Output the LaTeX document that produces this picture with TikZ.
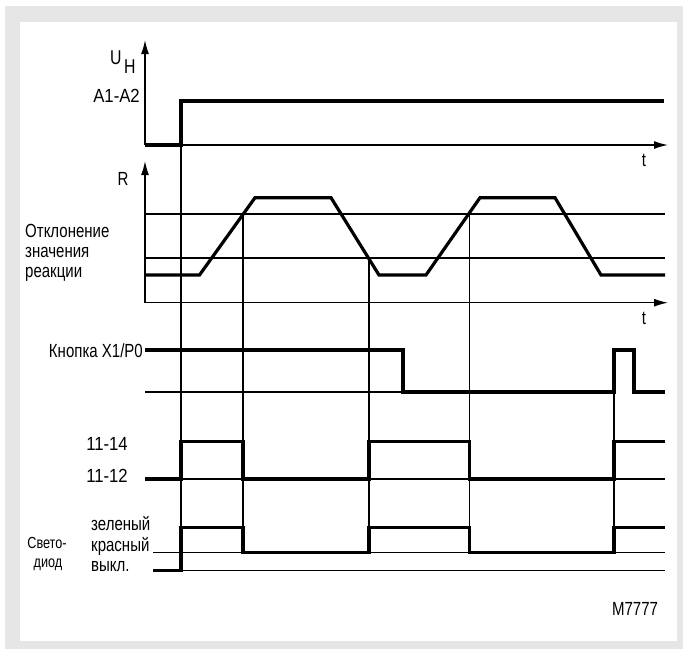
\documentclass[tikz,border=0pt]{standalone}
\usepackage{fontspec}
\setmainfont{Liberation Sans}[FakeStretch=0.79]
\newfontfamily\widefont{Liberation Sans}[FakeStretch=0.88]
\usetikzlibrary{arrows.meta}
\definecolor{framegrey}{HTML}{E6E6E6}
\begin{document}
\begin{tikzpicture}[x=1pt,y=-1pt,
  sigline/.style={line width=3.2pt,line join=miter},
  guideline/.style={line width=1.3pt},
  axis/.style={line width=1.4pt,-{Latex[length=14pt,width=8pt]}},
  lbl/.style={inner sep=0pt,font=\fontsize{19}{19}\selectfont},
  numlbl/.style={inner sep=0pt,font=\widefont\fontsize{19}{19}\selectfont}]
\useasboundingbox (0,0) rectangle (683,649);
\fill[white] (0,0) rectangle (683,649);
\fill[framegrey] (5,6) rectangle (683,649);
\fill[white] (19.5,22) rectangle (677,641);

% thin lines
\draw[guideline] (145,214) -- (665,214);
\draw[guideline] (145,258) -- (665,258);
\draw[guideline] (145,392) -- (403,392);
\draw[guideline] (145,479) -- (665,479);
\draw[guideline] (153,552.3) -- (665,552.3);
\draw[guideline] (153,570.7) -- (665,570.7);
% vertical guides
\draw[guideline] (181,145) -- (181,570.7);
\draw[guideline] (243,214) -- (243,552.3);
\draw[guideline] (369,258) -- (369,552.3);
\draw[guideline] (469.5,214) -- (469.5,552.3);
\draw[guideline] (614,350) -- (614,552.3);

% axes
\draw[axis] (145,145) -- (145,40);
\draw[axis] (145,145) -- (668,145);
\draw[axis] (145,302.7) -- (145,161);
\draw[axis] (145,302.7) -- (668,302.7);

% signals
\draw[sigline] (145,145) -- (181,145) -- (181,101) -- (664,101);
\draw[sigline] (145,275) -- (199.5,275) -- (255,197.7) -- (331,197.7) -- (379,275) -- (426,275) -- (480,197.7) -- (555,197.7) -- (601,275) -- (665,275);
\draw[sigline] (145,350) -- (403,350) -- (403,392) -- (614,392) -- (614,350) -- (634,350) -- (634,392) -- (665,392);
\draw[sigline] (145,479) -- (181,479) -- (181,441.7) -- (243,441.7) -- (243,479) -- (369,479) -- (369,441.7) -- (469.5,441.7) -- (469.5,479) -- (614,479) -- (614,441.7) -- (665,441.7);
\draw[sigline] (153,570.7) -- (181,570.7) -- (181,527.7) -- (243,527.7) -- (243,552.3) -- (369,552.3) -- (369,527.7) -- (469.5,527.7) -- (469.5,552.3) -- (614,552.3) -- (614,527.7) -- (665,527.7);

% labels
\node[lbl,anchor=base west,font=\fontsize{20}{20}\selectfont] (u) at (110,64) {U};
\node[lbl,anchor=base west,font=\fontsize{20}{20}\selectfont] (h) at (124,73) {H};
\node[numlbl,anchor=base east] (a12) at (140,102) {A1-A2};
\node[lbl,anchor=base] (t1) at (644,166) {t};
\node[lbl,anchor=base] (r) at (123,185) {R};
\node[lbl,anchor=base] (t2) at (644,324) {t};
\node[lbl,anchor=base west] (o1) at (25,237) {Отклонение};
\node[lbl,anchor=base west] (o2) at (25,257) {значения};
\node[lbl,anchor=base west] (o3) at (25,277) {реакции};
\node[lbl,anchor=base east] (kn) at (143,357) {Кнопка X1/P0};
\node[numlbl,anchor=base east] (r14) at (128,450) {11-14};
\node[numlbl,anchor=base east] (r12) at (128,482) {11-12};
\node[lbl,anchor=base west] (g) at (91,530) {зеленый};
\node[lbl,anchor=base west] (k) at (91,551) {красный};
\node[lbl,anchor=base west] (v) at (91,571) {выкл.};
\node[lbl,anchor=base,font=\fontsize{16}{16}\selectfont] (sv1) at (47,548) {Свето-};
\node[lbl,anchor=base,font=\fontsize{16}{16}\selectfont] (sv2) at (48,567) {диод};
\node[lbl,anchor=base] (m) at (635,615) {M7777};
\end{tikzpicture}
\end{document}
